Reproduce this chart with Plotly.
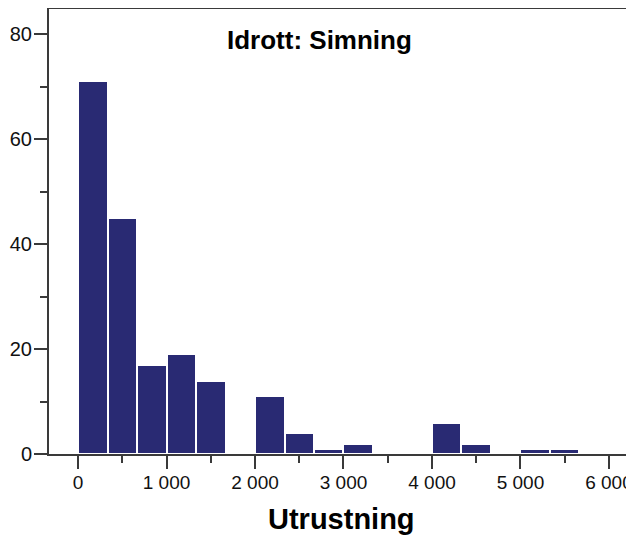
import plotly.graph_objects as go

# ── Dados ────────────────────────────────────────────────────────────────────

TITULO = "Idrott: Simning"
EIXO_X = "Utrustning"

BIN_START = 0
BIN_WIDTH = 1000 / 3
CONTAGENS = [71, 45, 17, 19, 14, 0, 11, 4, 1, 2, 0, 0, 6, 2, 0, 1, 1]

TICKS_X = [0, 1000, 2000, 3000, 4000, 5000, 6000]
LABELS_X = ["0", "1 000", "2 000", "3 000", "4 000", "5 000", "6 000"]
TICKS_Y = [0, 20, 40, 60, 80]

# ── Plotly ───────────────────────────────────────────────────────────────────

centros = [BIN_START + (i + 0.5) * BIN_WIDTH for i in range(len(CONTAGENS))]

FONTE = "Liberation Sans, Arial, sans-serif"
COR_EIXO = "#3a3a3a"

fig = go.Figure()
fig.add_trace(go.Bar(
    x=centros,
    y=CONTAGENS,
    width=BIN_WIDTH,
    marker=dict(color="#292a73", line=dict(color="#ffffff", width=2)),
    showlegend=False,
))

# título dentro do gráfico
fig.add_annotation(
    text=f"<b>{TITULO}</b>",
    xref="paper", yref="paper", x=0.462, y=0.931,
    xanchor="center", yanchor="middle", showarrow=False,
    font=dict(family=FONTE, size=26, color="#000000"),
)

# título do eixo x
fig.add_annotation(
    text=f"<b>{EIXO_X}</b>",
    xref="paper", yref="paper", x=0.5, y=-0.146,
    xanchor="center", yanchor="middle", showarrow=False,
    font=dict(family=FONTE, size=29, color="#000000"),
)

# a página tem margem de 8px no body, por isso a figura é menor
fig.update_layout(
    width=626, height=529,
    margin=dict(l=41, r=0, t=1, b=83),
    plot_bgcolor="#ffffff",
    paper_bgcolor="#ffffff",
    font=dict(family=FONTE, size=20, color="#111111"),
    bargap=0,
    xaxis=dict(
        range=[-328, 6283],
        tickmode="array", tickvals=TICKS_X, ticktext=LABELS_X,
        tickfont=dict(size=19),
        ticks="outside", ticklen=13, tickwidth=2, tickcolor=COR_EIXO,
        minor=dict(ticks="outside", dtick=500, tick0=0, ticklen=7, tickwidth=2, tickcolor=COR_EIXO),
        showline=True, linecolor=COR_EIXO, linewidth=2, mirror=True,
        showgrid=False, zeroline=False, automargin=False,
        ticklabelstandoff=-3,
    ),
    yaxis=dict(
        range=[0, 84.8],
        tickmode="array", tickvals=TICKS_Y,
        ticks="outside", ticklen=13, tickwidth=2, tickcolor=COR_EIXO,
        minor=dict(ticks="outside", dtick=10, tick0=0, ticklen=7, tickwidth=2, tickcolor=COR_EIXO),
        showline=True, linecolor=COR_EIXO, linewidth=2,
        showgrid=False, zeroline=False, automargin=False,
        ticklabelstandoff=-2,
    ),
)

fig.write_html("out.html")
